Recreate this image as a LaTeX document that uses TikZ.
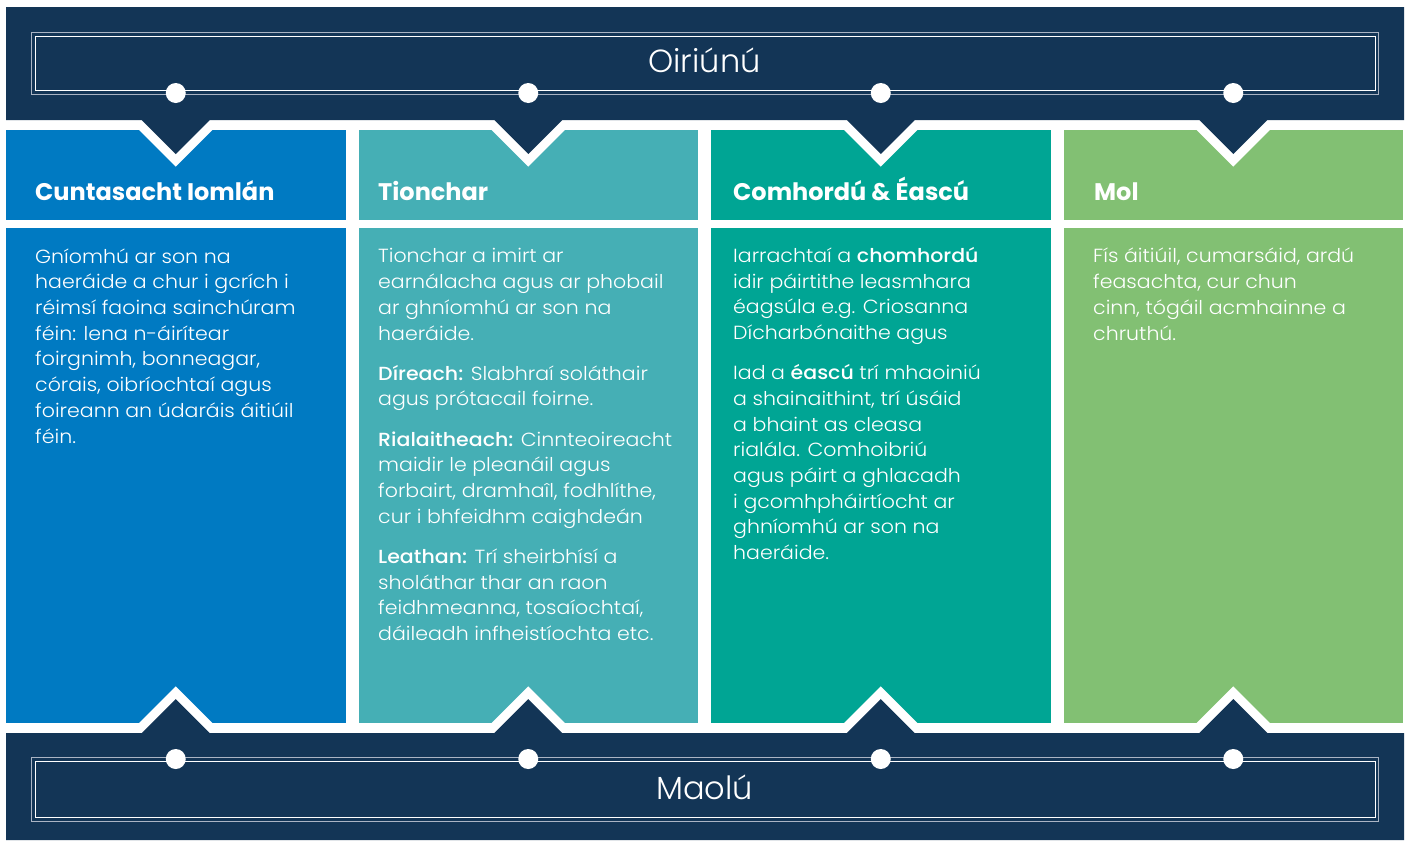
\documentclass[tikz,border=0pt]{standalone}
\usepackage{fontspec}
\setmainfont{Poppins Light}[BoldFont=Poppins Medium]
\newfontfamily\bodyfont{Poppins Light}[BoldFont=Poppins Medium, FakeStretch=1.08]
\newfontfamily\headfont{Poppins Bold}
\definecolor{navy}{RGB}{19,53,86}
\definecolor{colblue}{RGB}{0,122,194}
\definecolor{colteal}{RGB}{69,175,181}
\definecolor{colgreen}{RGB}{0,165,148}
\definecolor{collime}{RGB}{130,192,115}
\definecolor{rimgrey}{RGB}{170,180,196}

\begin{document}
\begin{tikzpicture}[x=1pt,y=-1pt]
    \tikzstyle{band} = [fill=navy]
    \tikzstyle{rim} = [draw=white, line width=18pt, line join=miter]
    \tikzstyle{head} = [anchor=base west, inner sep=0, text=white, font=\headfont\fontsize{24}{28}\selectfont]
    % multi-line nodes: base west is the baseline of the last line
    \tikzstyle{body} = [anchor=base west, inner sep=0, text=white, align=left, font=\bodyfont\fontsize{19}{25.7}\selectfont]
    \tikzstyle{title} = [anchor=base, inner sep=0, text=white, font=\fontsize{32}{36}\selectfont]
    \tikzstyle{dot} = [circle, fill=white, inner sep=0, minimum size=20pt]

    \useasboundingbox (0,0) rectangle (1409,841);

    % columns
    \foreach \i/\c in {0/colblue,1/colteal,2/colgreen,3/collime} {
        \fill[\c] (6+352.5*\i,130) rectangle ++(339.5,90);
        \fill[\c] (6+352.5*\i,228) rectangle ++(339.5,495);
    }

    % bands with pointers
    \foreach \sty in {rim,band} {
        \path[\sty] (6,7) -- (6,120)
            foreach \x in {175.75,528.25,880.75,1233.25} {-- ({\x-34},120) -- (\x,154) -- ({\x+34},120)}
            -- (1404,120) -- (1404,7) -- cycle;
        \path[\sty] (6,840) -- (6,733)
            foreach \x in {175.75,528.25,880.75,1233.25} {-- ({\x-34},733) -- (\x,699) -- ({\x+34},733)}
            -- (1404,733) -- (1404,840) -- cycle;
    }

    \draw[rimgrey, line width=1.3pt] (31.5,32.5) rectangle (1378.5,94.5);
    \draw[white, line width=1.3pt] (35.5,36.5) rectangle (1375.5,90.5);
    \draw[rimgrey, line width=1.3pt] (31.5,757.5) rectangle (1378.5,821.5);
    \draw[white, line width=1.3pt] (35.5,761.5) rectangle (1375.5,817.5);

    \foreach \x/\n in {175.75/a,528.25/b,880.75/c,1233.25/d} {
        \node[dot] (top\n) at (\x,93) {};
        \node[dot] (bot\n) at (\x,759) {};
    }

    \node[title] (oiriunu) at (704.5,72) {Oiriúnú};
    \node[title] (maolu) at (704.5,799) {Maolú};

    \node[head] (cuntasacht) at (35,200) {Cuntasacht Iomlán};
    \node[head] (tionchar) at (378,200) {Tionchar};
    \node[head] (comhordu) at (733,200) {Comhordú \& Éascú};
    \node[head] (mol) at (1094,200) {Mol};

    \node[body] (cuntasachttext) at (35,443) {Gníomhú ar son na\\
        haeráide a chur i gcrích i\\
        réimsí faoina sainchúram\\
        féin: lena n-áirítear\\
        foirgnimh, bonneagar,\\
        córais, oibríochtaí agus\\
        foireann an údaráis áitiúil\\
        féin.};
    \node[body] (tionchartext) at (378,640.5) {Tionchar a imirt ar\\
        earnálacha agus ar phobail\\
        ar ghníomhú ar son na\\
        haeráide.\\[14.5pt]
        \textbf{Díreach:} Slabhraí soláthair\\
        agus prótacail foirne.\\[14.5pt]
        \textbf{Rialaitheach:} Cinnteoireacht\\
        maidir le pleanáil agus\\
        forbairt, dramhaîl, fodhlíthe,\\
        cur i bhfeidhm caighdeán\\[14.5pt]
        \textbf{Leathan:} Trí sheirbhísí a\\
        sholáthar thar an raon\\
        feidhmeanna, tosaíochtaí,\\
        dáileadh infheistíochta etc.};
    \node[body] (comhordutext) at (733,559.5) {Iarrachtaí a \textbf{chomhordú}\\
        idir páirtithe leasmhara\\
        éagsúla e.g. Criosanna\\
        Dícharbónaithe agus\\[14.5pt]
        Iad a \textbf{éascú} trí mhaoiniú\\
        a shainaithint, trí úsáid\\
        a bhaint as cleasa\\
        rialála. Comhoibriú\\
        agus páirt a ghlacadh\\
        i gcomhpháirtíocht ar\\
        ghníomhú ar son na\\
        haeráide.};
    \node[body] (moltext) at (1093,340) {Fís áitiúil, cumarsáid, ardú\\
        feasachta, cur chun\\
        cinn, tógáil acmhainne a\\
        chruthú.};
\end{tikzpicture}
\end{document}
